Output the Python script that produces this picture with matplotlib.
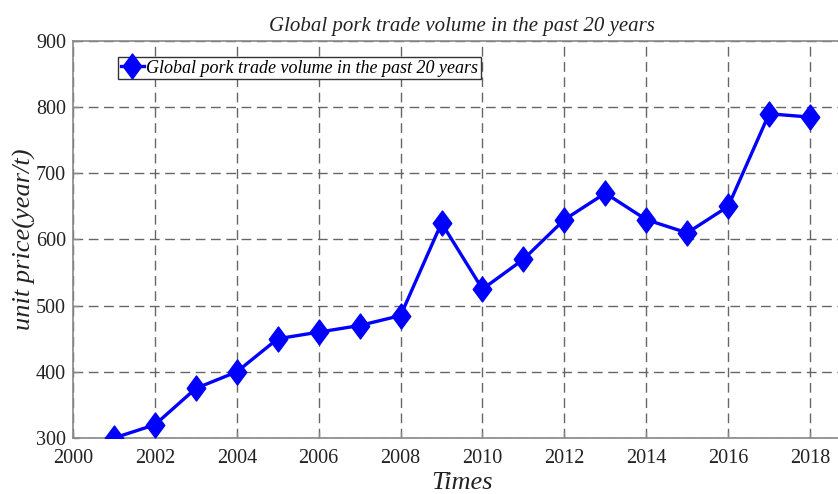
import matplotlib
matplotlib.use("Agg")
import matplotlib.pyplot as plt
from matplotlib.path import Path

years = [2001, 2002, 2003, 2004, 2005, 2006, 2007, 2008, 2009,
         2010, 2011, 2012, 2013, 2014, 2015, 2016, 2017, 2018]
volume = [300, 320, 375, 400, 450, 460, 470, 485, 625,
          525, 570, 630, 670, 630, 610, 650, 790, 785]
xticks = [2000, 2002, 2004, 2006, 2008, 2010, 2012, 2014, 2016, 2018]
yticks = [300, 400, 500, 600, 700, 800, 900]
title = "Global pork trade volume in the past 20 years"

plt.rcParams['font.family'] = ['Liberation Serif', 'DejaVu Serif']

W, H = 838, 494
fig = plt.figure(figsize=(W / 100, H / 100), dpi=100)
left, right, top, bottom = 73, 851, 41, 438
ax = fig.add_axes([left / W, (H - bottom) / H, (right - left) / W, (bottom - top) / H])

diamond = Path([(0, 1), (0.74, 0), (0, -1), (-0.74, 0), (0, 1)],
               [Path.MOVETO, Path.LINETO, Path.LINETO, Path.LINETO, Path.CLOSEPOLY])

ax.plot(years, volume, color='#0000ff', lw=2.4, marker=diamond, markersize=18,
        markerfacecolor='#0000ff', markeredgecolor='#0000ff', label=title, zorder=3)

ax.set_xlim(2000, 2019)
ax.set_ylim(300, 900)
ax.set_xticks(xticks)
ax.set_yticks(yticks)
ax.tick_params(axis='both', labelsize=14.5, direction='in', length=4, width=1,
               color='#888888', labelcolor='#222222')
ax.tick_params(axis='x', pad=8)
ax.tick_params(axis='y', pad=5)
ax.grid(True, linestyle=(0, (7, 4)), color='#666666', lw=1.0)
for s in ax.spines.values():
    s.set_color('#888888')
    s.set_linewidth(1.2)

ax.set_title(title, fontsize=15, style='italic', pad=7, color='#222222')
ax.set_xlabel('Times', fontsize=19, style='italic', labelpad=3, color='#222222')
ax.set_ylabel('unit price(year/t)', fontsize=19, style='italic', labelpad=0, color='#222222')

leg = ax.legend(loc='upper left', bbox_to_anchor=(45 / (right - left), 1 - 16 / (bottom - top)),
                prop={'style': 'italic', 'size': 13}, fancybox=False, framealpha=1,
                edgecolor='#333333', handlelength=1.3, handletextpad=0.1, borderpad=0.15,
                borderaxespad=0)
leg.get_frame().set_linewidth(1.0)

fig.savefig('out.png', dpi=100)
